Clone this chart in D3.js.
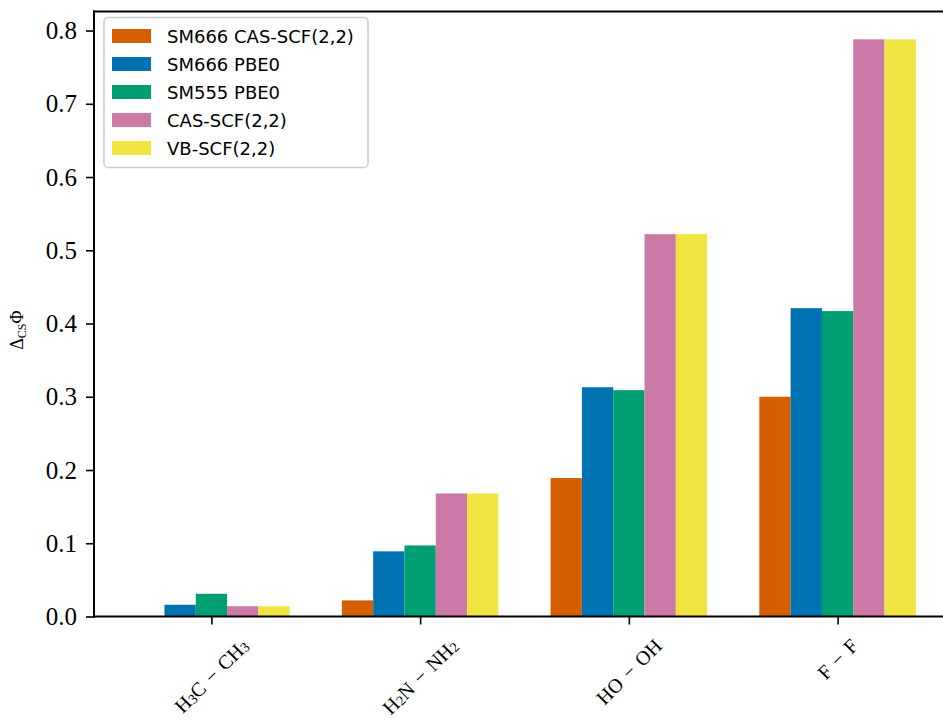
<!DOCTYPE html>
<html>
<head>
<meta charset="utf-8">
<script src="https://cdn.jsdelivr.net/npm/d3@7"></script>
<style>
  html, body { margin: 0; padding: 0; background: #fff; }
  svg { display: block; }
  .serif { font-family: "Liberation Serif", "DejaVu Serif", serif; }
</style>
</head>
<body>
<svg id="chart" width="943" height="724"></svg>
<script>
// Molecules on the x axis (label parts: [text, isSubscript])
const categories = ["H3C-CH3", "H2N-NH2", "HO-OH", "F-F"];
const categoryLabels = [
  [["H", false], ["3", true], ["C \u2212 CH", false], ["3", true]],
  [["H", false], ["2", true], ["N \u2212 NH", false], ["2", true]],
  [["HO \u2212 OH", false]],
  [["F \u2212 F", false]]
];

// Series names and values
const seriesNames = ["SM666 CAS-SCF(2,2)", "SM666 PBE0", "SM555 PBE0", "CAS-SCF(2,2)", "VB-SCF(2,2)"];
const sm666CasScf = [0.000, 0.022, 0.189, 0.300];
const sm666Pbe0   = [0.016, 0.089, 0.313, 0.421];
const sm555Pbe0   = [0.031, 0.097, 0.309, 0.417];
const casScf      = [0.014, 0.168, 0.522, 0.788];
const vbScf       = [0.014, 0.168, 0.522, 0.788];
const seriesValues = [sm666CasScf, sm666Pbe0, sm555Pbe0, casScf, vbScf];
const seriesColors = ["#D55E00", "#0072B2", "#009E73", "#CC79A7", "#F0E442"];

const yTicks = [0.0, 0.1, 0.2, 0.3, 0.4, 0.5, 0.6, 0.7, 0.8];

const svg = d3.select("#chart");
const plotLeft = 94, plotRight = 955, plotTop = 11.5, plotBottom = 616.5;
const barWidth = 0.15;

const x = d3.scaleLinear().domain([-0.5625, categories.length - 1 + 0.5625]).range([plotLeft, plotRight]);
const y = d3.scaleLinear().domain([0, 0.826]).range([plotBottom, plotTop]);

// Bars
seriesValues.forEach((vals, si) => {
  svg.append("g").selectAll("rect")
    .data(vals)
    .join("rect")
    .attr("x", (d, i) => x(i + (si - 2) * barWidth - barWidth / 2))
    .attr("width", x(barWidth) - x(0))
    .attr("y", d => y(d))
    .attr("height", d => y(0) - y(d))
    .attr("fill", seriesColors[si]);
});

// Spines
const spines = svg.append("g").attr("stroke", "#000").attr("stroke-width", 2).attr("fill", "none");
spines.append("line").attr("x1", plotLeft).attr("x2", plotLeft).attr("y1", plotTop).attr("y2", plotBottom).attr("stroke-linecap", "square");
spines.append("line").attr("x1", plotLeft).attr("x2", plotRight).attr("y1", plotBottom).attr("y2", plotBottom).attr("stroke-linecap", "square");
spines.append("line").attr("x1", plotLeft).attr("x2", plotRight).attr("y1", plotTop).attr("y2", plotTop).attr("stroke-linecap", "square");
spines.append("line").attr("x1", plotRight).attr("x2", plotRight).attr("y1", plotTop).attr("y2", plotBottom);

// Y axis
const yAxis = d3.axisLeft(y).tickValues(yTicks).tickFormat(d3.format(".1f")).tickSize(8).tickPadding(9);
const yG = svg.append("g").attr("transform", `translate(${plotLeft},0)`).call(yAxis);
yG.select(".domain").remove();
yG.selectAll(".tick line").attr("stroke-width", 1.6);
yG.selectAll(".tick text")
  .attr("class", "serif")
  .style("font-family", "'Liberation Serif', 'DejaVu Serif', serif")
  .style("font-size", "25px").attr("fill", "#000");

// X axis ticks
const xAxis = d3.axisBottom(x).tickValues(d3.range(categories.length)).tickFormat("").tickSize(8);
const xG = svg.append("g").attr("transform", `translate(0,${plotBottom})`).call(xAxis);
xG.select(".domain").remove();
xG.selectAll(".tick line").attr("stroke-width", 1.6);

// Rotated category labels, centred under each tick
categoryLabels.forEach((parts, i) => {
  const t = svg.append("text")
    .attr("class", "serif")
    .style("font-size", "20px")
    .attr("text-anchor", "middle")
    .attr("dominant-baseline", "central")
    .attr("word-spacing", 2);
  parts.forEach(([s, sub]) => {
    const ts = t.append("tspan").text(s);
    if (sub) ts.style("font-size", "14px").attr("baseline-shift", "-22%");
  });
  const bb = t.node().getBBox();
  const half = (bb.width + bb.height) / (2 * Math.SQRT2);
  const cx = x(i), cy = plotBottom + 18 + half;
  t.attr("transform", `translate(${cx},${cy}) rotate(-45)`);
});

// Y axis label
const yl = svg.append("text")
  .attr("class", "serif")
  .attr("transform", `translate(23,330) rotate(-90)`)
  .attr("text-anchor", "middle")
  .style("font-size", "18px");
yl.append("tspan").text("\u0394");
yl.append("tspan").text("CS").style("font-size", "12px").attr("baseline-shift", "-25%");
yl.append("tspan").text("\u03A6");

// Legend
const lg = svg.append("g");
lg.append("rect")
  .attr("x", 104).attr("y", 17.5).attr("width", 264).attr("height", 150)
  .attr("rx", 4).attr("fill", "#fff").attr("fill-opacity", 0.8)
  .attr("stroke", "#cccccc").attr("stroke-width", 1.5);
seriesNames.forEach((name, i) => {
  const cy = 36 + i * 28;
  lg.append("rect").attr("x", 112).attr("y", cy - 7).attr("width", 39).attr("height", 14).attr("fill", seriesColors[i]);
  lg.append("text").attr("x", 167).attr("y", cy).attr("dominant-baseline", "central")
    .style("font-family", "'DejaVu Sans', sans-serif").style("font-size", "18px").attr("fill", "#000")
    .text(name);
});
</script>
</body>
</html>
